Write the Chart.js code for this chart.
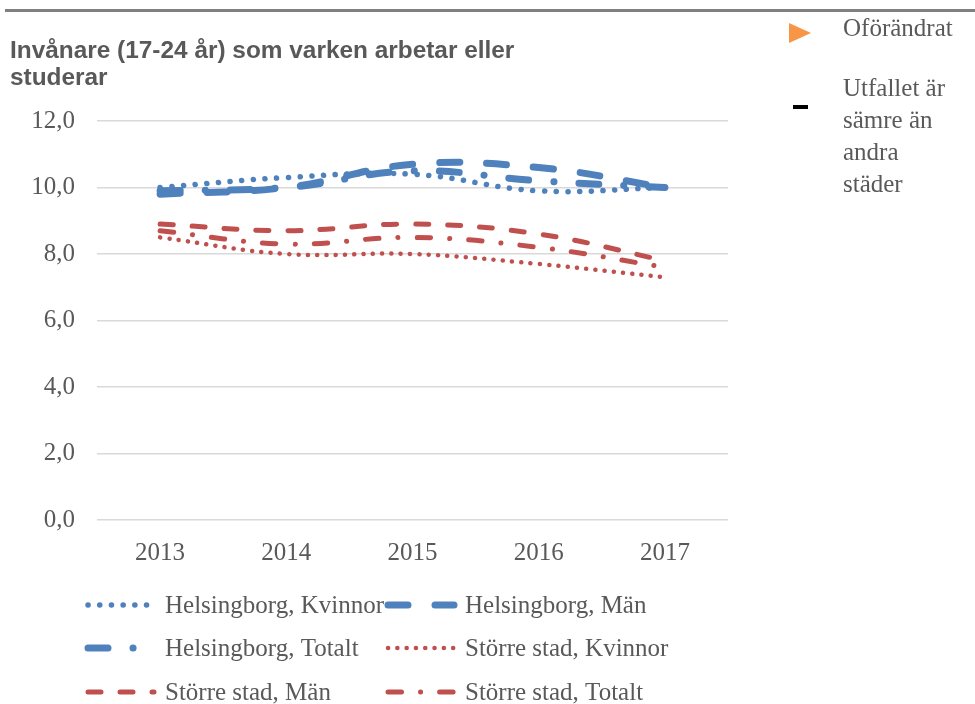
<!DOCTYPE html>
<html>
<head>
<meta charset="utf-8">
<script src="https://cdn.jsdelivr.net/npm/chart.js@4"></script>
<style>
  body { margin: 0; background: #fff; }
  #wrap { position: relative; width: 975px; height: 704px; overflow: hidden; }
  #rule { position: absolute; left: 5px; top: 9px; width: 970px; height: 3px; background: #808080; }
  #title { position: absolute; left: 10px; top: 36px; font: bold 24.4px "Liberation Sans", Arial, sans-serif; color: #595959; line-height: 27px; white-space: nowrap; }
  .note { position: absolute; left: 843px; font: 25px "Liberation Serif", serif; color: #595959; line-height: 32px; }
  #tri { position: absolute; left: 789px; top: 23px; width: 0; height: 0; border-top: 10.5px solid transparent; border-bottom: 10.5px solid transparent; border-left: 22px solid #f79646; }
  #dash { position: absolute; left: 793px; top: 105px; width: 15px; height: 4px; background: #000; }
  canvas { position: absolute; left: 0; top: 0; }
</style>
</head>
<body>
<div id="wrap">
  <canvas id="chart" width="975" height="704"></canvas>
  <div id="rule"></div>
  <div id="title">Invånare (17-24 år) som varken arbetar eller<br>studerar</div>
  <div id="tri"></div>
  <div class="note" style="top:12px">Oförändrat</div>
  <div id="dash"></div>
  <div class="note" style="top:72px">Utfallet är<br>sämre än<br>andra<br>städer</div>
</div>
<script>
const years = ['2013', '2014', '2015', '2016', '2017'];
const yTicks = [0, 2, 4, 6, 8, 10, 12];

const hbgKvinnor = [10.0, 10.3, 10.4, 9.9, 10.0];
const hbgMan = [9.8, 10.0, 10.7, 10.6, 10.0];
const hbgTotalt = [9.9, 10.0, 10.5, 10.2, 10.0];
const storreKvinnor = [8.5, 8.0, 8.0, 7.7, 7.3];
const storreMan = [8.9, 8.7, 8.9, 8.6, 7.8];
const storreTotalt = [8.7, 8.3, 8.5, 8.2, 7.6];

const blue = '#4f81bd';
const red = '#c0504d';
const serif = '"Liberation Serif", serif';

function line(label, data, color, width, dash) {
  return {
    label, data,
    borderColor: color,
    backgroundColor: color,
    borderWidth: width,
    borderDash: dash,
    borderCapStyle: 'round',
    borderJoinStyle: 'round',
    pointRadius: 0,
    tension: 0.4,
    fill: false
  };
}

const datasets = [
  line('Helsingborg, Kvinnor', hbgKvinnor, blue, 5.5, [0.1, 11.6]),
  line('Helsingborg, Män', hbgMan, blue, 7, [20, 27]),
  line('Helsingborg, Totalt', hbgTotalt, blue, 7, [20, 25, 0.1, 25]),
  line('Större stad, Kvinnor', storreKvinnor, red, 4.5, [0.1, 9.2]),
  line('Större stad, Män', storreMan, red, 5, [13, 19]),
  line('Större stad, Totalt', storreTotalt, red, 5, [13.5, 19, 0.1, 19])
];

// legend drawn by hand: two columns, three rows
const legendSpots = [[88, 605], [388, 605], [88, 648], [388, 648], [88, 692], [388, 692]];
const customLegend = {
  id: 'customLegend',
  afterDraw(chart) {
    const ctx = chart.ctx;
    ctx.save();
    chart.data.datasets.forEach((ds, i) => {
      const [x, y] = legendSpots[i];
      ctx.strokeStyle = ds.borderColor;
      ctx.lineWidth = ds.borderWidth;
      ctx.lineCap = 'round';
      ctx.setLineDash(ds.borderDash);
      ctx.beginPath();
      ctx.moveTo(x, y);
      ctx.lineTo(x + 66, y);
      ctx.stroke();
      ctx.setLineDash([]);
      ctx.fillStyle = '#595959';
      ctx.font = '25px ' + serif;
      ctx.textBaseline = 'middle';
      ctx.fillText(ds.label, x + 77, y + 1);
    });
    ctx.restore();
  }
};

new Chart(document.getElementById('chart'), {
  type: 'line',
  data: { labels: years, datasets },
  options: {
    responsive: false,
    animation: false,
    layout: { padding: { top: 121, right: 247, left: 0, bottom: 0 } },
    plugins: { legend: { display: false }, tooltip: { enabled: false } },
    scales: {
      x: {
        offset: true,
        grid: { display: false, drawTicks: false },
        border: { display: false },
        ticks: { color: '#595959', font: { family: serif, size: 25 }, padding: 18 },
        afterFit: s => { s.height = 184; }
      },
      y: {
        min: 0, max: 12,
        afterBuildTicks: s => { s.ticks = yTicks.map(v => ({ value: v })); },
        grid: { color: '#d9d9d9', lineWidth: 1.5, drawTicks: false },
        border: { display: false },
        ticks: {
          color: '#595959',
          font: { family: serif, size: 25 },
          padding: 22,
          callback: v => v.toFixed(1).replace('.', ',')
        },
        afterFit: s => { s.width = 97; }
      }
    }
  },
  plugins: [customLegend]
});
</script>
</body>
</html>
